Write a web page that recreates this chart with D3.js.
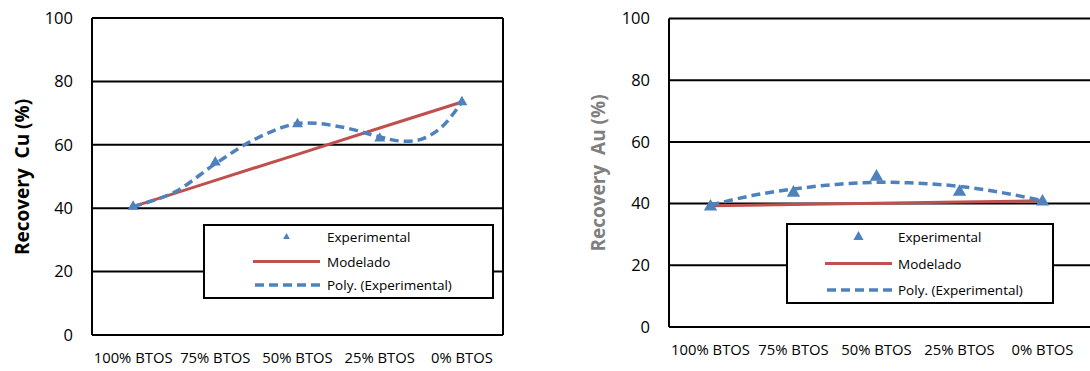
<!DOCTYPE html>
<html>
<head>
<meta charset="utf-8">
<script src="https://cdn.jsdelivr.net/npm/d3@7"></script>
<style>
  html, body { margin: 0; padding: 0; background: #fff; }
  svg { display: block; font-family: "Open Sans", sans-serif; }
</style>
</head>
<body>
<div id="chart"></div>
<script>
const categories = ['100% BTOS', '75% BTOS', '50% BTOS', '25% BTOS', '0% BTOS'];
const yTicks = [0, 20, 40, 60, 80, 100];

// Cu
const cuExperimental = [40.5, 54.5, 66.5, 62.0, 73.5];
const cuModelado = [40.5, 48.8, 57.0, 65.3, 73.5];
const cuPolyIdx = [0, 0.5, 1, 1.5, 2, 2.5, 3, 3.25, 3.5, 3.75, 4];
const cuPoly = [40.5, 45.0, 54.0, 62.0, 66.7, 65.8, 62.5, 61.2, 61.7, 65.5, 73.5];

// Au
const auExperimental = [39.0, 43.5, 48.7, 43.8, 40.6];
const auModelado = [39.3, 39.7, 40.1, 40.5, 40.9];
const auPolyIdx = [0, 0.5, 1, 1.5, 2, 2.5, 3, 3.5, 4];
const auPoly = [39.5, 42.6, 44.7, 46.2, 46.9, 46.6, 45.6, 43.6, 41.0];

const legendNames = ['Experimental', 'Modelado', 'Poly. (Experimental)'];

const blue = '#4f81bd';
const red = '#c0504d';
const width = 1090, height = 371;

const svg = d3.select('#chart').append('svg')
    .attr('width', width)
    .attr('height', height);

function panel(cfg) {
  const g = svg.append('g');

  const x = d3.scaleBand()
      .domain(categories)
      .range([cfg.left, cfg.right]);

  const xi = d3.scaleLinear()
      .domain([0, categories.length - 1])
      .range([x(categories[0]) + x.bandwidth() / 2, x(categories[categories.length - 1]) + x.bandwidth() / 2]);

  const y = d3.scaleLinear()
      .domain([0, 100])
      .range([cfg.bottom, cfg.top]);

  // gridlines
  g.append('g')
    .selectAll('line')
    .data(yTicks)
    .join('line')
      .attr('x1', cfg.left)
      .attr('x2', cfg.gridRight)
      .attr('y1', d => y(d))
      .attr('y2', d => y(d))
      .attr('stroke', '#000')
      .attr('stroke-width', 2);

  // plot border
  g.append('line')
      .attr('x1', cfg.left).attr('x2', cfg.left)
      .attr('y1', y(100)).attr('y2', y(0))
      .attr('stroke', '#000').attr('stroke-width', 2);
  if (cfg.border) {
    g.append('line')
        .attr('x1', cfg.right).attr('x2', cfg.right)
        .attr('y1', y(100)).attr('y2', y(0))
        .attr('stroke', '#000').attr('stroke-width', 2);
  }

  // y axis
  g.append('g')
      .attr('transform', `translate(${cfg.left - 19},0)`)
      .call(d3.axisLeft(y).tickValues(yTicks).tickSize(0).tickPadding(0))
      .call(a => a.select('.domain').remove())
      .call(a => a.selectAll('text')
          .attr('font-family', '"Open Sans", sans-serif')
          .attr('font-size', 16.5)
          .attr('fill', '#000'));

  // x axis
  g.append('g')
      .attr('transform', `translate(0,${y(0)})`)
      .call(d3.axisBottom(x).tickSize(0).tickPadding(cfg.xPad))
      .call(a => a.select('.domain').remove())
      .call(a => a.selectAll('text')
          .attr('font-family', '"Open Sans", sans-serif')
          .attr('font-size', 14.8)
          .attr('fill', '#000'));

  // axis title
  g.append('text')
      .attr('transform', `translate(${cfg.titleX},${cfg.titleY}) rotate(-90)`)
      .attr('text-anchor', 'middle')
      .attr('dominant-baseline', 'central')
      .attr('font-weight', 'bold')
      .attr('font-size', 19)
      .style('white-space', 'pre')
      .attr('fill', cfg.titleColor)
      .text(cfg.title);

  // modelado
  g.append('path')
      .datum(cfg.modelado)
      .attr('fill', 'none')
      .attr('stroke', red)
      .attr('stroke-width', 3)
      .attr('d', d3.line().x((d, i) => xi(i)).y(d => y(d)));

  // poly trend
  g.append('path')
      .datum(cfg.polyIdx.map((t, i) => [t, cfg.poly[i]]))
      .attr('fill', 'none')
      .attr('stroke', blue)
      .attr('stroke-width', 3.5)
      .attr('stroke-dasharray', '9,5')
      .attr('d', d3.line().x(d => xi(d[0])).y(d => y(d[1])).curve(d3.curveCatmullRom));

  // experimental markers
  g.append('g')
    .selectAll('path')
    .data(cfg.experimental)
    .join('path')
      .attr('transform', (d, i) => `translate(${xi(i)},${y(d)})`)
      .attr('d', d3.symbol(d3.symbolTriangle, cfg.markerSize))
      .attr('fill', blue);

  // legend
  const L = cfg.legend;
  const lg = g.append('g');
  lg.append('rect')
      .attr('x', L.x0).attr('y', L.y0)
      .attr('width', L.x1 - L.x0).attr('height', L.y1 - L.y0)
      .attr('fill', '#fff')
      .attr('stroke', '#000')
      .attr('stroke-width', 2);

  const rows = lg.selectAll('g.row')
    .data(legendNames)
    .join('g')
      .attr('class', 'row')
      .attr('transform', (d, i) => `translate(0,${L.rows[i]})`);

  rows.append('text')
      .attr('x', L.textX)
      .attr('dominant-baseline', 'central')
      .attr('font-size', 13.5)
      .attr('fill', '#000')
      .text(d => d);

  rows.filter((d, i) => i === 0).append('path')
      .attr('transform', `translate(${(L.lineX0 + L.lineX1) / 2},0)`)
      .attr('d', d3.symbol(d3.symbolTriangle, L.markerSize))
      .attr('fill', blue);

  rows.filter((d, i) => i === 1).append('line')
      .attr('x1', L.lineX0).attr('x2', L.lineX1)
      .attr('stroke', red).attr('stroke-width', 3);

  rows.filter((d, i) => i === 2).append('line')
      .attr('x1', L.lineX0 + 2).attr('x2', L.lineX1)
      .attr('stroke', blue).attr('stroke-width', 3.5)
      .attr('stroke-dasharray', '9,5');
}

panel({
  left: 92, right: 503, gridRight: 503, top: 18, bottom: 335, border: true,
  xPad: 17, title: 'Recovery  Cu (%)', titleX: 22, titleY: 177, titleColor: '#000',
  experimental: cuExperimental, modelado: cuModelado, polyIdx: cuPolyIdx, poly: cuPoly,
  markerSize: 52,
  legend: { x0: 204, x1: 493, y0: 225, y1: 298, rows: [237, 261.5, 285],
            lineX0: 253, lineX1: 320, textX: 327, markerSize: 20 }
});

panel({
  left: 669, right: 1084, gridRight: 1095, top: 18.5, bottom: 327, border: false,
  xPad: 17, title: 'Recovery  Au (%)', titleX: 598, titleY: 173, titleColor: '#7f7f7f',
  experimental: auExperimental, modelado: auModelado, polyIdx: auPolyIdx, poly: auPoly,
  markerSize: 78,
  legend: { x0: 787, x1: 1053, y0: 224, y1: 303, rows: [237, 263.5, 290],
            lineX0: 825, lineX1: 892, textX: 898, markerSize: 45 }
});
</script>
</body>
</html>
